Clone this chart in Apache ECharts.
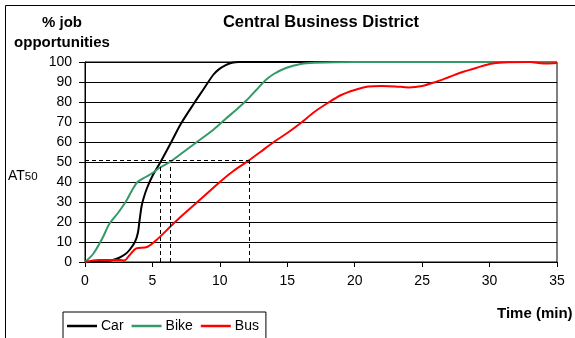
<!DOCTYPE html>
<html>
<head>
<meta charset="utf-8">
<script src="https://cdn.jsdelivr.net/npm/echarts@6/dist/echarts.min.js"></script>
<style>
  html, body { margin: 0; padding: 0; background: #fff; }
  #chart { width: 575px; height: 338px; }
</style>
</head>
<body>
<div id="chart"></div>
<script>
// Cumulative share of job opportunities reachable by travel time (minutes)
const carPoints = [
  [0, 0], [1, 0.4], [2, 0.9], [2.5, 2], [3, 4], [3.3, 6], [3.7, 10], [3.92, 14.5],
  [4.05, 21], [4.2, 28], [4.35, 32], [4.6, 37], [5, 43], [5.6, 50], [6.4, 60],
  [7.1, 69], [8.1, 79.5], [8.8, 86.5], [9.5, 93.5], [9.9, 96.2], [10.4, 98.3],
  [10.9, 99.6], [11.4, 100], [20, 100], [35, 100]
];
const bikePoints = [
  [0, 0], [0.6, 4], [1.3, 12], [1.8, 19], [2.5, 25], [3.1, 31], [3.5, 36], [3.9, 40],
  [4.5, 42.5], [5, 44.5], [5.5, 47], [6.3, 50], [7, 53.5], [8, 58.5], [8.5, 61],
  [9.3, 65], [10, 69], [10.5, 72], [11.2, 76], [12, 81], [12.7, 86], [13.4, 91],
  [14, 94], [14.9, 97], [16, 99], [17, 99.6], [20, 100], [35, 100]
];
const busPoints = [
  [0, 0], [1, 1], [2, 1], [2.6, 1], [2.9, 0.7], [3.3, 3.4], [3.8, 6.8], [4.6, 7.5],
  [5.3, 11], [6.3, 17.5], [7, 22], [8, 28], [8.5, 31], [9, 34], [10, 40],
  [11, 45.5], [12.2, 51], [13, 55], [14, 60], [15, 64.5], [16, 69.5], [17, 75],
  [18, 79.5], [19, 83.5], [20, 86], [21, 87.7], [22, 88], [23, 87.8], [24, 87.3],
  [25, 88], [26, 90], [27, 92.5], [28, 95], [29, 97], [30, 99], [31, 99.8],
  [33, 100], [34, 99.2], [35, 99.5]
];
const seriesNames = ['Car', 'Bike', 'Bus'];
// Travel times at which each mode reaches 50 % of jobs, and the guide levels
const at50Times = [5.6, 6.3, 12.2];
const at50Tops = [48, 48, 51];
const at50Level = 51;
const xTicks = { min: 0, max: 35, step: 5 };
const yTicks = { min: 0, max: 100, step: 10 };

const font = 'Arial, "Liberation Sans", Helvetica, sans-serif';
const chart = echarts.init(document.getElementById('chart'), null, { renderer: 'canvas' });

const guideLines = [
  [{ coord: [0, at50Level] }, { coord: [at50Times[2], at50Level] }]
].concat(at50Times.map((t, i) => [{ coord: [t, 0] }, { coord: [t, at50Tops[i]] }]));

function lineSeries(name, data, color) {
  return {
    name: name,
    type: 'line',
    data: data,
    symbol: 'none',
    smooth: 0.3,
    lineStyle: { color: color, width: 2 },
    itemStyle: { color: color },
    emphasis: { disabled: true },
    z: 3
  };
}

const series = [
  lineSeries(seriesNames[0], carPoints, '#000000'),
  lineSeries(seriesNames[1], bikePoints, '#339966'),
  lineSeries(seriesNames[2], busPoints, '#ff0000')
];
series[2].markLine = {
  silent: true,
  symbol: 'none',
  label: { show: false },
  lineStyle: { color: '#000', width: 1, type: [4, 3] },
  data: guideLines,
  animation: false
};

chart.setOption({
  animation: false,
  backgroundColor: '#fff',
  title: {
    text: 'Central Business District',
    left: 316, top: 9, textAlign: 'center',
    textStyle: { fontFamily: font, fontSize: 16.5, fontWeight: 'bold', color: '#000' }
  },
  graphic: [
    { type: 'rect', shape: { x: 5.5, y: 5.5, width: 700, height: 500 },
      style: { fill: 'none', stroke: '#000', lineWidth: 1 }, z: -1, silent: true },
    { type: 'text', silent: true,
      style: { text: '% job', x: 62, y: 23, align: 'center', verticalAlign: 'middle',
        font: 'bold 15px ' + font, fill: '#000' } },
    { type: 'text', silent: true,
      style: { text: 'opportunities', x: 62, y: 43, align: 'center', verticalAlign: 'middle',
        font: 'bold 15px ' + font, fill: '#000' } },
    { type: 'text', silent: true,
      style: { x: 8, y: 169, text: '{a|AT}{b|50}', verticalAlign: 'alphabetic',
        rich: {
          a: { font: '14px ' + font, fill: '#000', verticalAlign: 'bottom' },
          b: { font: '11.5px ' + font, fill: '#000', verticalAlign: 'bottom' }
        } } },
    { type: 'text', silent: true,
      style: { x: 497, y: 306, text: 'Time (min)', font: 'bold 15px ' + font, fill: '#000' } }
  ],
  legend: {
    data: seriesNames.map(n => ({ name: n, icon: 'rect' })),
    left: 63, top: 312,
    orient: 'horizontal',
    itemWidth: 30, itemHeight: 2.5, itemGap: 8,
    padding: [7, 7, 7, 4],
    borderColor: '#000', borderWidth: 1,
    backgroundColor: '#fff',
    textStyle: { fontFamily: font, fontSize: 14, color: '#000', padding: [0, 0, 0, -1] },
    selectedMode: false
  },
  grid: {
    left: 85, right: 18, top: 62, height: 200,
    show: true, borderColor: '#000', borderWidth: 1, backgroundColor: 'transparent'
  },
  xAxis: {
    type: 'value',
    min: xTicks.min, max: xTicks.max, interval: xTicks.step,
    axisLine: { show: true, lineStyle: { color: '#000', width: 1 } },
    axisTick: { show: true, length: 5, inside: false, lineStyle: { color: '#000' } },
    axisLabel: { margin: 12, fontFamily: font, fontSize: 14, color: '#000' },
    splitLine: { show: false }
  },
  yAxis: {
    type: 'value',
    min: yTicks.min, max: yTicks.max, interval: yTicks.step,
    axisLine: { show: true, lineStyle: { color: '#000', width: 1 } },
    axisTick: { show: true, length: 6, inside: false, lineStyle: { color: '#000' } },
    axisLabel: { margin: 13, fontFamily: font, fontSize: 14, color: '#000' },
    splitLine: { show: true, lineStyle: { color: '#000', width: 1 } }
  },
  series: series
});
</script>
</body>
</html>
